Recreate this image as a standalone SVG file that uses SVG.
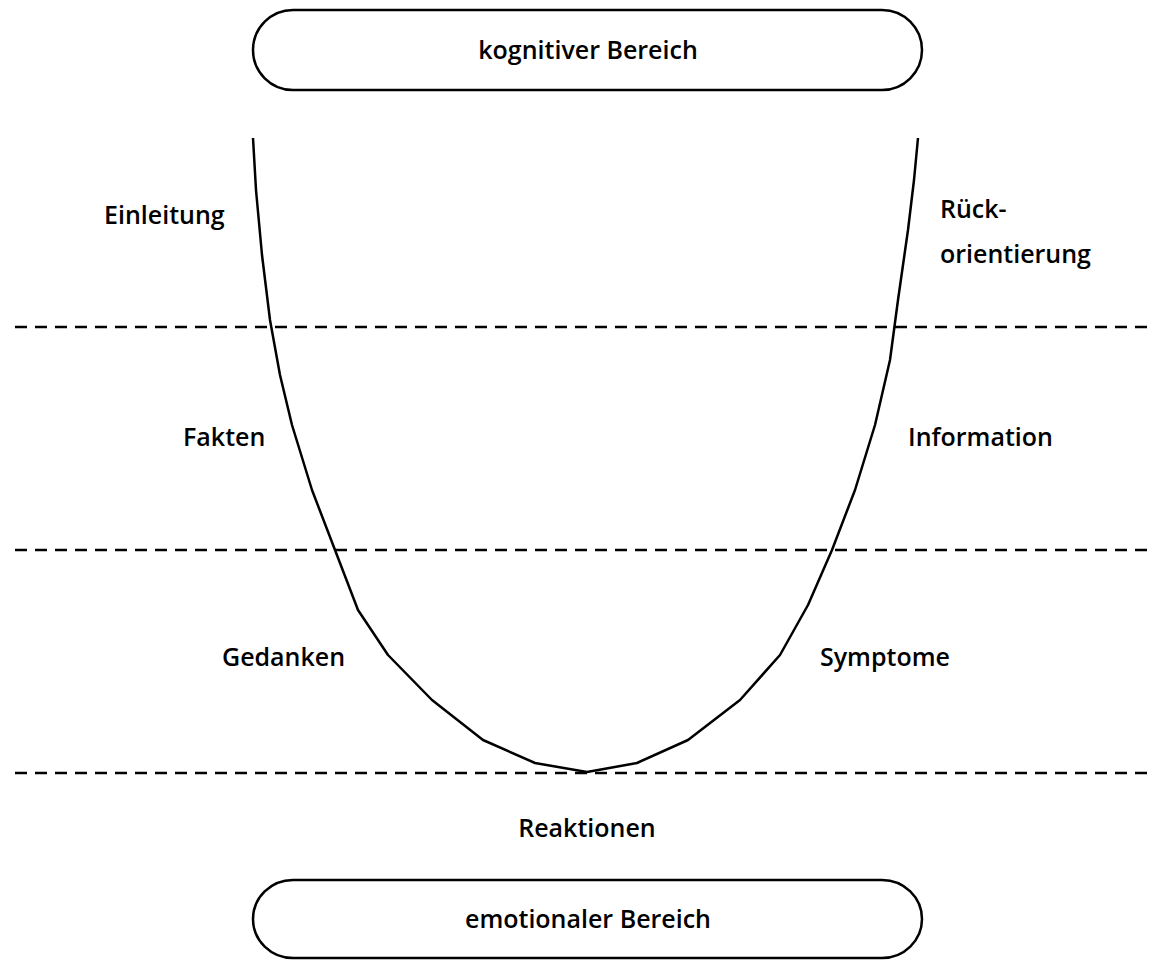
<svg xmlns="http://www.w3.org/2000/svg" width="1152" height="962" viewBox="0 0 1152 962">
<style>
.pill{fill:#fff;stroke:#000;stroke-width:2.5}
.dash{stroke:#000;stroke-width:2.5;stroke-dasharray:12 8;fill:none}
.curve{fill:none;stroke:#000;stroke-width:2.5;stroke-linejoin:round}
text{font-family:"Open Sans","Noto Sans","Liberation Sans",sans-serif;font-weight:600;font-size:25px;fill:#000}
.c{text-anchor:middle}
</style>
<rect width="1152" height="962" fill="#fff"/>
<g id="top">
<rect class="pill" x="253" y="10" width="669" height="80" rx="40" ry="40"/>
<text class="c" x="588" y="59">kognitiver Bereich</text>
</g>
<g id="bottom">
<rect class="pill" x="253" y="880" width="669" height="78" rx="40" ry="40"/>
<text class="c" x="588" y="928">emotionaler Bereich</text>
</g>
<g id="connectors">
<line class="dash" x1="15" y1="327" x2="1152" y2="327"/>
<line class="dash" x1="15" y1="550" x2="1152" y2="550"/>
<line class="dash" x1="15" y1="773" x2="1152" y2="773"/>
<polyline class="curve" points="253,138 256,190 262,255 270,320 280,375 292,425 312,490 335,550 358,610 388,655 432,700 483,740 535,763 587,772 637,763 688,740 740,700 780,655 808,605 832,550 855,490 875,425 890,360 898,300 908,230 914,180 918,138"/>
</g>
<g id="labels">
<text x="104" y="224">Einleitung</text>
<text x="940" y="218">Rück-</text>
<text x="940" y="263">orientierung</text>
<text x="183" y="446">Fakten</text>
<text x="908" y="446">Information</text>
<text x="222" y="666">Gedanken</text>
<text x="820" y="666">Symptome</text>
<text class="c" x="587" y="837">Reaktionen</text>
</g>
</svg>
